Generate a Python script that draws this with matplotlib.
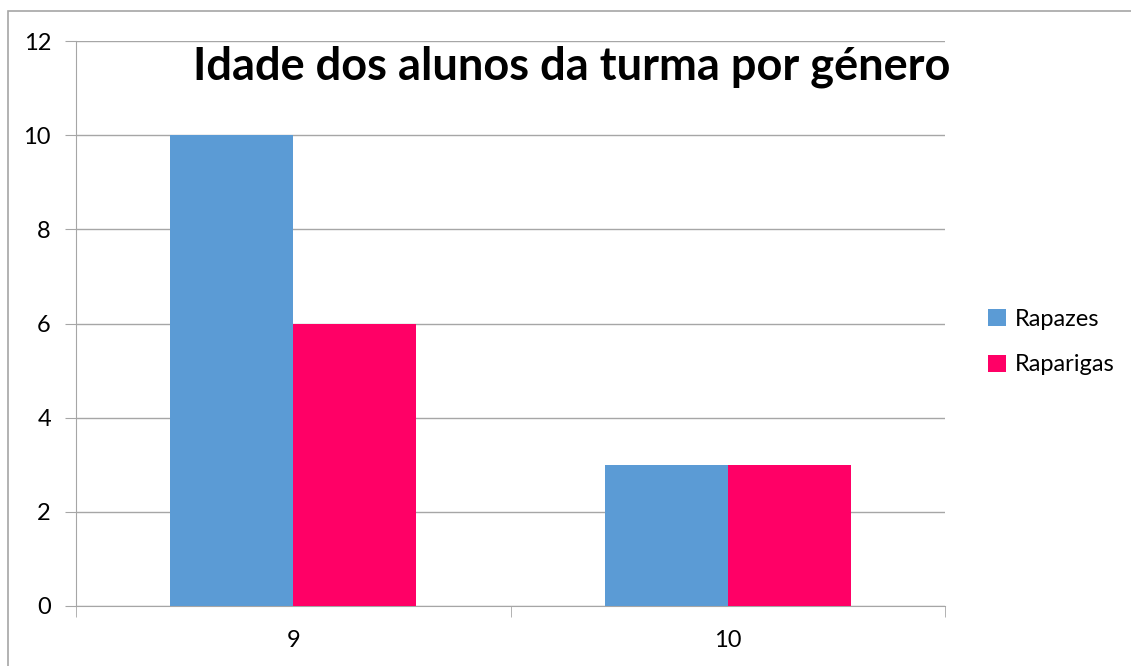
import matplotlib.pyplot as plt
import matplotlib.patches as patches
import numpy as np

plt.rcParams['font.family'] = ['Lato', 'DejaVu Sans']

idades = ['9', '10']
rapazes = [10, 3]
raparigas = [6, 3]
series = ['Rapazes', 'Raparigas']
cores = ['#5B9BD5', '#FF0066']

fig = plt.figure(figsize=(11.31, 6.66), dpi=100)
ax = fig.add_axes([76 / 1131, 1 - 606 / 666, (945 - 76) / 1131, (606 - 41) / 666])

x = np.arange(len(idades))
w = 0.283
ax.bar(x - w / 2, rapazes, width=w, color=cores[0], label=series[0], zorder=3)
ax.bar(x + w / 2, raparigas, width=w, color=cores[1], label=series[1], zorder=3)

ax.set_xlim(-0.5, len(idades) - 0.5)
ax.set_ylim(0, 12)
ax.set_yticks(np.arange(0, 13, 2))
ax.yaxis.grid(True, color='#a6a6a6', linewidth=1, zorder=0)

# category labels centred, ticks on category boundaries
ax.set_xticks(x)
ax.set_xticklabels(idades)
ax.tick_params(axis='x', length=0, pad=17, labelsize=17)
ax.set_xticks(np.arange(-0.5, len(idades)), minor=True)
ax.tick_params(axis='x', which='minor', length=8, color='#a6a6a6')
ax.tick_params(axis='y', length=8, color='#a6a6a6', pad=10, labelsize=17)

for s in ['top', 'right']:
    ax.spines[s].set_visible(False)
for s in ['left', 'bottom']:
    ax.spines[s].set_color('#a6a6a6')

fig.text(572 / 1131, 1 - 67 / 666, 'Idade dos alunos da turma por género',
         ha='center', va='center', fontsize=32.5, fontweight='bold')

ax.legend(loc='center left', bbox_to_anchor=(988 / 1131, 1 - 342 / 666),
          bbox_transform=fig.transFigure, frameon=False, fontsize=17,
          borderpad=0, borderaxespad=0,
          handlelength=0.75, handleheight=0.75, handletextpad=0.4, labelspacing=1.05)

# outer chart border
fig.patches.append(patches.Rectangle((8 / 1131, -0.1), 1.2, 1 - 11 / 666 + 0.1,
                                     transform=fig.transFigure, fill=False,
                                     edgecolor='#a6a6a6', linewidth=1.2))

fig.savefig('out.png', dpi=100)
